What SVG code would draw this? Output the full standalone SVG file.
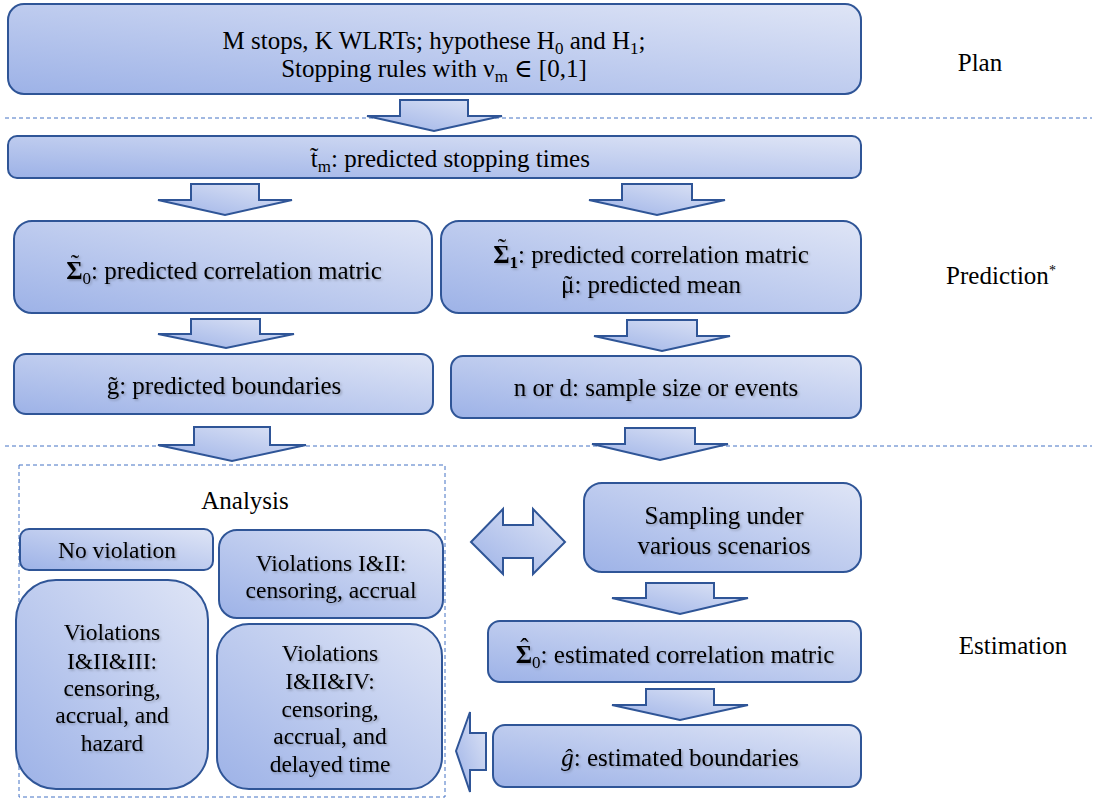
<svg xmlns="http://www.w3.org/2000/svg" width="1097" height="799" viewBox="0 0 1097 799" font-family="'Liberation Serif', Tinos, 'Times New Roman', 'DejaVu Serif', 'Noto Serif', serif">
<defs>
  <linearGradient id="gf" x1="0" y1="1" x2="1" y2="0">
    <stop offset="0" stop-color="#9db2e7"/>
    <stop offset="1" stop-color="#dfe5f6"/>
  </linearGradient>
  <filter id="ts" x="-5%" y="-20%" width="110%" height="140%">
    <feDropShadow dx="1.5" dy="1.5" stdDeviation="1" flood-color="#000" flood-opacity="0.25"/>
  </filter>
</defs>
<style>
  .box{fill:url(#gf);stroke:#2f5597;stroke-width:2}
  .arr{fill:url(#gf);stroke:#2f5597;stroke-width:2;stroke-linejoin:miter}
  .dash{stroke:#4472c4;stroke-width:1;stroke-dasharray:4 3;fill:none}
  .t{font-size:25px;fill:#000;text-anchor:middle}
  .a{font-size:23.5px;fill:#000;text-anchor:middle}
  .sh{filter:url(#ts)}
  .lab{font-size:25px;fill:#000;text-anchor:middle}
  .sub{font-size:17px}
</style>

<g id="separators">
  <line class="dash" x1="5" y1="118" x2="1092" y2="118"/>
  <line class="dash" x1="5" y1="446" x2="1092" y2="446"/>
</g>

<g id="analysis-group">
  <rect x="19" y="465" width="426" height="332" fill="none" stroke="#4472c4" stroke-width="1" stroke-dasharray="4 3"/>
  <text class="t" x="245" y="509">Analysis</text>
</g>

<g id="plan">
  <rect class="box" x="8" y="4" width="853" height="90" rx="16"/>
  <text class="t" x="434" y="49">M stops, K WLRTs; hypothese H<tspan class="sub" dy="5">0</tspan><tspan dy="-5"> and H</tspan><tspan class="sub" dy="5">1</tspan><tspan dy="-5">;</tspan></text>
  <text class="t" x="434" y="77">Stopping rules with ν<tspan class="sub" dy="5">m</tspan><tspan dy="-5"> ∈ [0,1]</tspan></text>
</g>

<g id="tm">
  <rect class="box" x="8" y="136" width="853" height="42" rx="9"/>
  <text class="t" x="450" y="167">t<tspan dx="-7.6" dy="-2">˜</tspan><tspan class="sub" dx="-0.7" dy="7">m</tspan><tspan dy="-5">: predicted stopping times</tspan></text>
</g>

<g id="sigma0">
  <rect class="box" x="14" y="221" width="418" height="92" rx="18"/>
  <text class="t sh" x="224" y="279"><tspan font-weight="bold">Σ</tspan><tspan dx="-11.8" dy="-7">˜</tspan><tspan class="sub" dx="3.5" dy="12">0</tspan><tspan dy="-5">: predicted correlation matric</tspan></text>
</g>

<g id="sigma1">
  <rect class="box" x="441" y="221" width="420" height="92" rx="18"/>
  <text class="t sh" x="651" y="263"><tspan font-weight="bold">Σ</tspan><tspan dx="-11.8" dy="-7">˜</tspan><tspan class="sub" font-weight="bold" dx="3.5" dy="12">1</tspan><tspan dy="-5">: predicted correlation matric</tspan></text>
  <text class="t sh" x="651" y="293">μ<tspan dx="-10.3">˜</tspan><tspan dx="2">: predicted mean</tspan></text>
</g>

<g id="gtilde">
  <rect class="box" x="14" y="354" width="419" height="60" rx="12"/>
  <text class="t sh" x="224" y="394">g<tspan dx="-10.3">˜</tspan><tspan dx="2">: predicted boundaries</tspan></text>
</g>

<g id="nd">
  <rect class="box" x="451" y="356" width="410" height="62" rx="12"/>
  <text class="t sh" x="656" y="396">n or d: sample size or events</text>
</g>

<g id="no-violation">
  <rect class="box" x="20" y="529" width="193" height="41" rx="9"/>
  <text class="a sh" x="117" y="558">No violation</text>
</g>

<g id="viol-12">
  <rect class="box" x="219" y="530" width="224" height="88" rx="18"/>
  <text class="a sh" x="331" y="571">Violations I&amp;II:</text>
  <text class="a sh" x="331" y="598">censoring, accrual</text>
</g>

<g id="viol-123">
  <rect class="box" x="16" y="580" width="192" height="209" rx="40"/>
  <text class="a sh" x="112" y="640">Violations</text>
  <text class="a sh" x="112" y="669">I&amp;II&amp;III:</text>
  <text class="a sh" x="112" y="696">censoring,</text>
  <text class="a sh" x="112" y="723">accrual, and</text>
  <text class="a sh" x="112" y="751">hazard</text>
</g>

<g id="viol-124">
  <rect class="box" x="217" y="624" width="225" height="165" rx="32"/>
  <text class="a sh" x="330" y="661">Violations</text>
  <text class="a sh" x="330" y="689">I&amp;II&amp;IV:</text>
  <text class="a sh" x="330" y="717">censoring,</text>
  <text class="a sh" x="330" y="744">accrual, and</text>
  <text class="a sh" x="330" y="772">delayed time</text>
</g>

<g id="sampling">
  <rect class="box" x="584" y="483" width="277" height="89" rx="18"/>
  <text class="t sh" x="724" y="524">Sampling  under</text>
  <text class="t sh" x="724" y="554">various scenarios</text>
</g>

<g id="sigma0hat">
  <rect class="box" x="488" y="621" width="373" height="61" rx="12"/>
  <text class="t sh" x="675" y="663"><tspan font-weight="bold">Σ</tspan><tspan dx="-11.8" dy="-7">ˆ</tspan><tspan class="sub" dx="3.5" dy="12">0</tspan><tspan dy="-5">: estimated correlation matric</tspan></text>
</g>

<g id="ghat">
  <rect class="box" x="493" y="725" width="368" height="62" rx="12"/>
  <text class="t sh" x="680" y="766"><tspan font-style="italic">ĝ</tspan>:  estimated boundaries</text>
</g>

<g id="labels">
  <text class="lab" x="980" y="71">Plan</text>
  <text class="lab" x="1001" y="284">Prediction<tspan font-size="14" dy="-9">*</tspan></text>
  <text class="lab" x="1013" y="654">Estimation</text>
</g>

<g id="connectors">
  <path class="arr" d="M400,100 H468 V116 H502 L434,131 L367,116 H400 Z"/>
  <path class="arr" d="M191,184 H259 V200 H292 L225,215 L158,200 H191 Z"/>
  <path class="arr" d="M622,184 H692 V200 H725 L657,215 L589,200 H622 Z"/>
  <path class="arr" d="M191,319 H260 V334 H294 L226,348 L158,334 H191 Z"/>
  <path class="arr" d="M627,320 H697 V336 H730 L662,351 L594,336 H627 Z"/>
  <path class="arr" d="M194,427 H270 V445 H306 L232,461 L158,445 H194 Z"/>
  <path class="arr" d="M625,428 H695 V444 H728 L660,460 L592,444 H625 Z"/>
  <path class="arr" d="M471,542 L503,509 V525 H533 V509 L565,542 L533,574 V558 H503 V574 Z"/>
  <path class="arr" d="M646,583 H714 V598 H748 L680,614 L612,598 H646 Z"/>
  <path class="arr" d="M646,689 H714 V705 H748 L680,720 L612,705 H646 Z"/>
  <path class="arr" d="M456,751 L470,712 V733 H486 V770 H470 V792 Z"/>
</g>
</svg>
